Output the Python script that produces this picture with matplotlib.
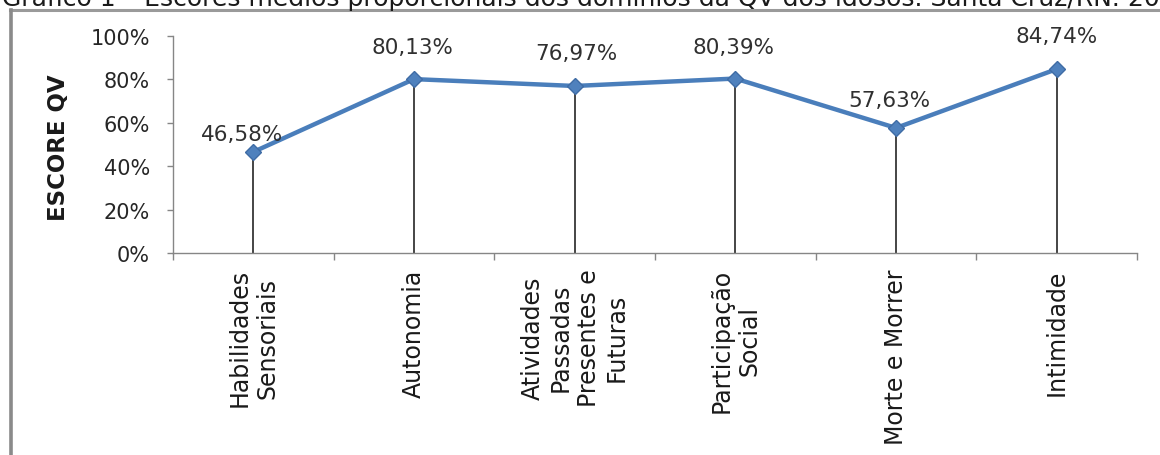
import matplotlib
matplotlib.use("Agg")
import matplotlib.pyplot as plt
from matplotlib.lines import Line2D
from matplotlib.ticker import PercentFormatter

# data
categorias = ["Habilidades\nSensoriais", "Autonomia", "Atividades\nPassadas\nPresentes e\nFuturas",
              "Participação\nSocial", "Morte e Morrer", "Intimidade"]
escores = [46.58, 80.13, 76.97, 80.39, 57.63, 84.74]
rotulos = ["46,58%", "80,13%", "76,97%", "80,39%", "57,63%", "84,74%"]
titulo = "Gráfico 1 – Escores médios proporcionais dos domínios da QV dos idosos. Santa Cruz/RN. 2014"

# label offsets in points (dx, dy) -- just placement
offsets = [(-8, 13), (-1, 23), (1, 24), (-1, 23), (-5, 20), (0, 24)]

plt.rcParams['font.family'] = ['DejaVu Sans']

fig = plt.figure(figsize=(11.6, 4.56), dpi=100)
ax = fig.add_axes([173/1160, 1 - 254/456, (1137-173)/1160, (254-37)/456])

xs = [i + 0.5 for i in range(len(escores))]
ys = [v / 100 for v in escores]

ax.vlines(xs, 0, ys, color='#454545', lw=1.4, zorder=2)
ax.plot(xs, ys, color='#4A7EBB', lw=3.2, marker='D', markersize=8.5,
        markerfacecolor='#4F81BD', markeredgecolor='#3F6CA5', zorder=3)

for x, y, txt, (dx, dy) in zip(xs, ys, rotulos, offsets):
    ax.annotate(txt, (x, y), xytext=(dx, dy), textcoords='offset points',
                ha='center', va='center', fontsize=15.5, color='#303030', zorder=4)

ax.set_xlim(0, 6)
ax.set_ylim(0, 1)
ax.set_yticks([0, 0.2, 0.4, 0.6, 0.8, 1.0])
ax.yaxis.set_major_formatter(PercentFormatter(1.0, decimals=0))

ax.set_xticks(xs)
ax.set_xticklabels(categorias, rotation=90, fontsize=17, color='#1a1a1a')
ax.set_xticks(range(0, 7), minor=True)
ax.tick_params(axis='x', which='major', length=0, pad=11)
ax.tick_params(axis='x', which='minor', length=5, width=1, color='#868686', direction='out')
ax.tick_params(axis='y', length=4.5, width=1, color='#868686', pad=12,
               labelsize=15, labelcolor='#262626')

for s in ['top', 'right']:
    ax.spines[s].set_visible(False)
for s in ['left', 'bottom']:
    ax.spines[s].set_color('#868686')
    ax.spines[s].set_linewidth(1)

fig.text(59/1160, 1 - 148/456, "ESCORE QV", rotation=90, ha='center', va='center',
         fontsize=16.5, fontweight='bold', color='#1a1a1a')

# caption, cut off by the top of the image like in the scan
fig.text(2/1160, 1 - 6/456, titulo, ha='left', va='baseline', fontsize=18, color='#1a1a1a')

# gray frame on top and left
fig.add_artist(Line2D([10/1160, 1], [1 - 11/456, 1 - 11/456], transform=fig.transFigure,
                      color='#9a9a9a', lw=2.2))
fig.add_artist(Line2D([11/1160, 11/1160], [0, 1 - 11/456], transform=fig.transFigure,
                      color='#8a8a8a', lw=2.6))

fig.savefig("out.png", dpi=100, facecolor='white')
